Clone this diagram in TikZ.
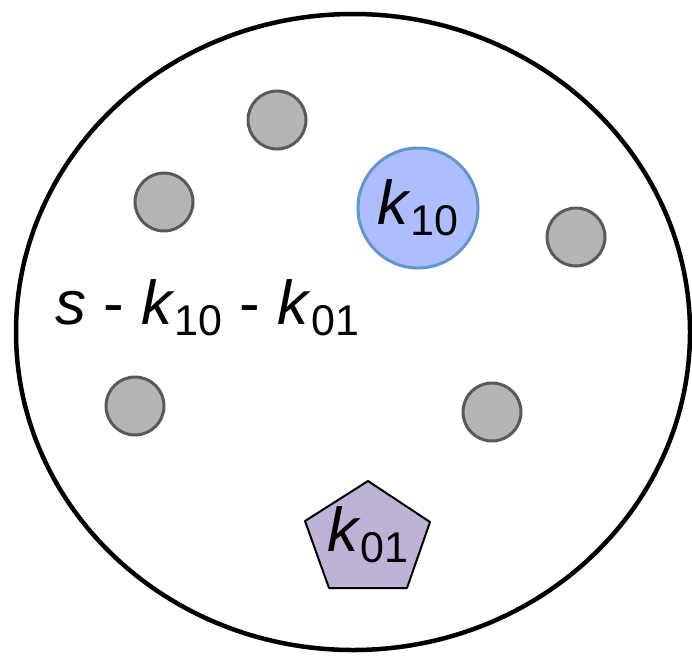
\documentclass[tikz,border=0pt]{standalone}
\usepackage{fontspec}
\setmainfont{Liberation Sans}
\usetikzlibrary{positioning}
\definecolor{dotfill}{RGB}{180,180,180}
\definecolor{dotline}{RGB}{89,89,89}
\definecolor{bluefill}{RGB}{172,190,255}
\definecolor{blueline}{RGB}{98,150,204}
\definecolor{pentfill}{RGB}{190,178,215}
\newcommand{\kidx}[1]{\textit{k}\raisebox{-11pt}{\fontsize{43}{50}\selectfont #1}}

\begin{document}
\begin{tikzpicture}[
  x=1pt, y=-1pt,
  rim/.style={draw=black, line width=4.5pt},
  dot/.style={circle, draw=dotline, fill=dotfill, line width=3pt, minimum size=58pt, inner sep=0pt},
  bluedot/.style={circle, draw=blueline, fill=bluefill, line width=3pt, minimum size=120pt, inner sep=0pt},
  pent/.style={draw=black, fill=pentfill, line width=2pt, line join=round},
  lbl/.style={font=\fontsize{62}{70}\selectfont, inner sep=0pt}
]
\useasboundingbox (0,0) rectangle (692,656);
\draw[rim] (353,332) ellipse [x radius=337, y radius=318];
% gray dots
\node[dot] (d1) at (277,120) {};
\node[dot] (d2) at (164,202) {};
\node[dot] (d3) at (576,237) {};
\node[dot] (d4) at (135,406) {};
\node[dot] (d5) at (492,412) {};
% k10 circle
\node[bluedot, lbl] (k10) at (418,208) {\kidx{10}};
% k01 pentagon
\draw[pent] (368,481) -- (430,522) -- (407,588) -- (329,588) -- (305,521) -- cycle;
\node[lbl] (k01) at (368,535) {\kidx{01}};
% remainder label
\node[lbl, anchor=base west] (rest) at (55,324) {\textit{s} - \kidx{10} - \kidx{01}};
\end{tikzpicture}
\end{document}
